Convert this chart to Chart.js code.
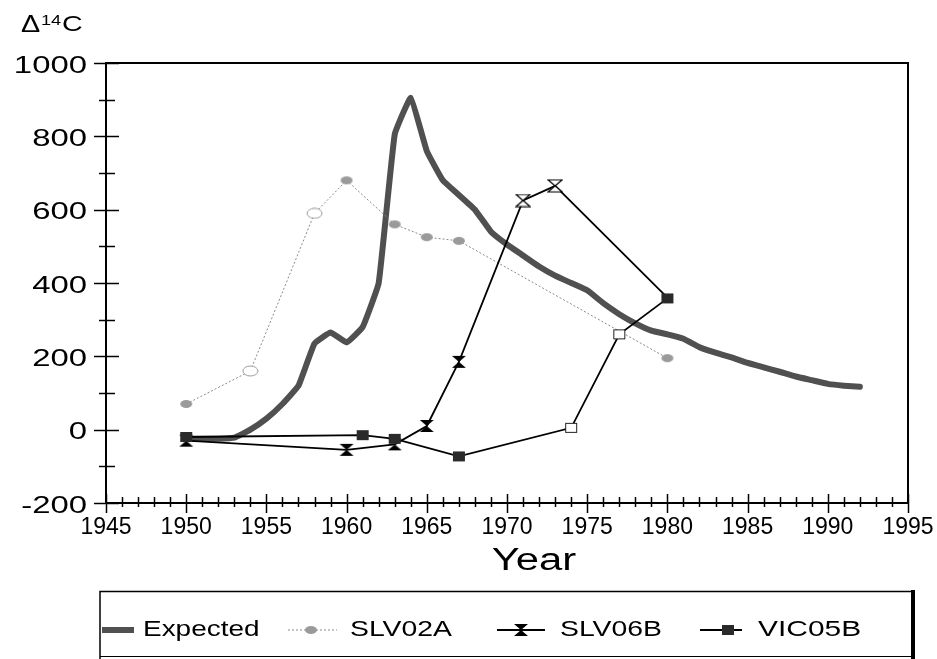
<!DOCTYPE html>
<html>
<head>
<meta charset="utf-8">
<script src="https://cdn.jsdelivr.net/npm/chart.js@4.4.1/dist/chart.umd.min.js"></script>
<style>
  html, body { margin: 0; padding: 0; background: #fff; }
  #wrap { width: 937px; height: 659px; }
</style>
</head>
<body>
<div id="wrap"><canvas id="c14Chart" width="937" height="659"></canvas></div>
<script>
// Data
const expectedYears = [1950, 1951, 1952, 1953, 1954, 1955, 1956, 1957, 1958, 1959, 1960, 1961, 1962, 1963, 1964, 1965, 1966, 1967, 1968, 1969, 1970, 1971, 1972, 1973, 1974, 1975, 1976, 1977, 1978, 1979, 1980, 1981, 1982, 1983, 1984, 1985, 1986, 1987, 1988, 1989, 1990, 1991, 1992];
const expectedValues = [-25, -25, -25, -22, 0, 30, 70, 120, 235, 265, 238, 280, 400, 805, 905, 760, 680, 640, 600, 540, 505, 475, 445, 420, 400, 380, 345, 315, 290, 270, 260, 248, 225, 210, 197, 182, 170, 158, 145, 135, 125, 120, 117];

const slv02aYears = [1950, 1954, 1958, 1960, 1963, 1965, 1967, 1980];
const slv02aValues = [70, 160, 590, 680, 560, 525, 515, 195];

const slv06bYears = [1950, 1960, 1963, 1965, 1967, 1971, 1973, 1980];
const slv06bValues = [-30, -55, -40, 10, 185, 625, 665, 360];

const vic05bYears = [1950, 1961, 1963, 1967, 1974, 1977, 1980];
const vic05bValues = [-20, -15, -25, -73, 5, 260, 358];

const seriesLabels = ["Expected", "SLV02A", "SLV06B", "VIC05B"];
const xTickValues = [1945, 1950, 1955, 1960, 1965, 1970, 1975, 1980, 1985, 1990, 1995];
const yTickValues = [-200, 0, 200, 400, 600, 800, 1000];

// open (unfilled) markers, by year
const slv02aOpen = [1954, 1958];
const slv06bOpen = [1971, 1973];
const vic05bOpen = [1974, 1977];
const slv06bNoMarker = [1980];

const EXPECTED_COLOR = "#505050";
const SLV02A_COLOR = "#8a8a8a";

function toPoints(xs, ys) {
  return xs.map((x, i) => ({ x: x, y: ys[i] }));
}

function makeMarker(kind, open) {
  const c = document.createElement("canvas");
  const ctx = c.getContext("2d");
  if (kind === "circle") {
    c.width = open ? 17 : 14;
    c.height = open ? 12 : 10;
    ctx.beginPath();
    ctx.ellipse(c.width / 2, c.height / 2, c.width / 2 - 1, c.height / 2 - 1, 0, 0, Math.PI * 2);
    if (open) {
      ctx.fillStyle = "#fff";
      ctx.fill();
      ctx.strokeStyle = "#999";
      ctx.lineWidth = 1;
      ctx.stroke();
    } else {
      ctx.fillStyle = "#9a9a9a";
      ctx.fill();
    }
  } else if (kind === "hourglass") {
    c.width = 16;
    c.height = 14;
    ctx.beginPath();
    ctx.moveTo(1, 1);
    ctx.lineTo(15, 1);
    ctx.lineTo(8, 7);
    ctx.lineTo(15, 13);
    ctx.lineTo(1, 13);
    ctx.lineTo(8, 7);
    ctx.closePath();
    if (open) {
      ctx.fillStyle = "#fff";
      ctx.fill();
      ctx.strokeStyle = "#000";
      ctx.lineWidth = 1.2;
      ctx.stroke();
    } else {
      ctx.fillStyle = "#000";
      ctx.fill();
    }
  } else {
    c.width = 14;
    c.height = 12;
    if (open) {
      ctx.fillStyle = "#fff";
      ctx.fillRect(1, 1, 12, 10);
      ctx.strokeStyle = "#222";
      ctx.lineWidth = 1;
      ctx.strokeRect(1.5, 1.5, 11, 9);
    } else {
      ctx.fillStyle = "#2a2a2a";
      ctx.fillRect(1, 1, 12, 10);
    }
  }
  return c;
}

const markers = {
  circle: makeMarker("circle", false),
  circleOpen: makeMarker("circle", true),
  hourglass: makeMarker("hourglass", false),
  hourglassOpen: makeMarker("hourglass", true),
  square: makeMarker("square", false),
  squareOpen: makeMarker("square", true),
};

function drawStretched(ctx, text, x, y, font, sx, align) {
  ctx.save();
  ctx.font = font;
  ctx.textBaseline = "middle";
  ctx.textAlign = "left";
  const w = ctx.measureText(text).width * sx;
  let left = x;
  if (align === "right") left = x - w;
  if (align === "center") left = x - w / 2;
  ctx.translate(left, y);
  ctx.scale(sx, 1);
  ctx.fillStyle = "#000";
  ctx.fillText(text, 0, 0);
  ctx.restore();
}

// axes frame, crossing tick marks, stretched labels and boxed legend
const decorPlugin = {
  id: "decor",
  afterDraw(chart) {
    const ctx = chart.ctx;
    const area = chart.chartArea;
    const xs = chart.scales.x;
    const ys = chart.scales.y;
    ctx.save();
    ctx.strokeStyle = "#000";

    // top and right frame
    ctx.lineWidth = 2;
    ctx.beginPath();
    ctx.moveTo(area.left, area.top);
    ctx.lineTo(area.right, area.top);
    ctx.lineTo(area.right, area.bottom);
    ctx.stroke();

    // x ticks (every year, major every 5)
    ctx.lineWidth = 1.5;
    for (let yr = xs.min; yr <= xs.max; yr++) {
      const px = Math.round(xs.getPixelForValue(yr)) + 0.5;
      const major = yr % 5 === 0;
      ctx.beginPath();
      ctx.moveTo(px, area.bottom - (major ? 9 : 6));
      ctx.lineTo(px, area.bottom + (major ? 10 : 4));
      ctx.stroke();
    }

    // y ticks (every 100, major every 200)
    for (let v = ys.min; v <= ys.max; v += 100) {
      const py = Math.round(ys.getPixelForValue(v)) + 0.5;
      const major = v % 200 === 0;
      ctx.beginPath();
      ctx.moveTo(area.left - (major ? 12 : 7), py);
      ctx.lineTo(area.left + (major ? 13 : 9), py);
      ctx.stroke();
    }

    // y tick labels
    yTickValues.forEach((v) => {
      drawStretched(ctx, String(v), 87, ys.getPixelForValue(v) + 3, "24px 'Liberation Sans', Arial, sans-serif", 1.37, "right");
    });

    // axis titles
    drawStretched(ctx, "Year", 534, 561, "31px 'Liberation Sans', Arial, sans-serif", 1.35, "center");
    drawStretched(ctx, "\u0394", 21, 26, "23px 'Liberation Sans', Arial, sans-serif", 1.25, "left");
    drawStretched(ctx, "14", 41, 21, "14px 'Liberation Sans', Arial, sans-serif", 1.3, "left");
    drawStretched(ctx, "C", 62, 25, "22px 'Liberation Sans', Arial, sans-serif", 1.3, "left");

    // legend box
    ctx.strokeStyle = "#000";
    ctx.lineWidth = 1.5;
    ctx.beginPath();
    ctx.moveTo(100, 659);
    ctx.lineTo(100, 591.5);
    ctx.lineTo(912, 591.5);
    ctx.stroke();
    ctx.lineWidth = 1;
    ctx.beginPath();
    ctx.moveTo(100, 656.5);
    ctx.lineTo(912, 656.5);
    ctx.stroke();
    ctx.lineWidth = 4;
    ctx.beginPath();
    ctx.moveTo(913, 590);
    ctx.lineTo(913, 659);
    ctx.stroke();

    const ly = 630;
    const font = "22px 'Liberation Sans', Arial, sans-serif";
    // Expected
    ctx.strokeStyle = EXPECTED_COLOR;
    ctx.lineWidth = 6;
    ctx.beginPath();
    ctx.moveTo(102, ly);
    ctx.lineTo(134, ly);
    ctx.stroke();
    drawStretched(ctx, seriesLabels[0], 143, ly, font, 1.27, "left");
    // SLV02A
    ctx.strokeStyle = SLV02A_COLOR;
    ctx.lineWidth = 1;
    ctx.setLineDash([2, 2]);
    ctx.beginPath();
    ctx.moveTo(288, ly);
    ctx.lineTo(337, ly);
    ctx.stroke();
    ctx.setLineDash([]);
    ctx.drawImage(markers.circle, 311 - 7, ly - 5);
    drawStretched(ctx, seriesLabels[1], 350, ly, font, 1.29, "left");
    // SLV06B
    ctx.strokeStyle = "#000";
    ctx.lineWidth = 2;
    ctx.beginPath();
    ctx.moveTo(497, ly);
    ctx.lineTo(545, ly);
    ctx.stroke();
    ctx.drawImage(markers.hourglass, 521 - 8, ly - 7);
    drawStretched(ctx, seriesLabels[2], 560, ly, font, 1.29, "left");
    // VIC05B
    ctx.beginPath();
    ctx.moveTo(700, ly);
    ctx.lineTo(742, ly);
    ctx.stroke();
    ctx.drawImage(markers.square, 728 - 7, ly - 6);
    drawStretched(ctx, seriesLabels[3], 758, ly, font, 1.36, "left");

    ctx.restore();
  },
};

const ctx = document.getElementById("c14Chart").getContext("2d");
new Chart(ctx, {
  type: "line",
  data: {
    datasets: [
      {
        label: seriesLabels[0],
        data: toPoints(expectedYears, expectedValues),
        borderColor: EXPECTED_COLOR,
        borderWidth: 6,
        borderJoinStyle: "round",
        borderCapStyle: "round",
        pointRadius: 0,
        tension: 0.1,
        order: 10,
      },
      {
        label: seriesLabels[1],
        data: toPoints(slv02aYears, slv02aValues),
        borderColor: SLV02A_COLOR,
        borderWidth: 1,
        borderDash: [2, 2],
        pointStyle: slv02aYears.map((y) => (slv02aOpen.includes(y) ? markers.circleOpen : markers.circle)),
        pointRadius: 6,
        order: 3,
      },
      {
        label: seriesLabels[2],
        data: toPoints(slv06bYears, slv06bValues),
        borderColor: "#000",
        borderWidth: 1.8,
        pointStyle: slv06bYears.map((y) => (slv06bOpen.includes(y) ? markers.hourglassOpen : markers.hourglass)),
        pointRadius: slv06bYears.map((y) => (slv06bNoMarker.includes(y) ? 0 : 6)),
        order: 2,
      },
      {
        label: seriesLabels[3],
        data: toPoints(vic05bYears, vic05bValues),
        borderColor: "#000",
        borderWidth: 1.8,
        pointStyle: vic05bYears.map((y) => (vic05bOpen.includes(y) ? markers.squareOpen : markers.square)),
        pointRadius: 6,
        order: 1,
      },
    ],
  },
  options: {
    responsive: false,
    animation: false,
    events: [],
    layout: {
      padding: { top: 63, right: 29, left: 0, bottom: 0 },
    },
    plugins: {
      legend: { display: false },
      tooltip: { enabled: false },
    },
    scales: {
      x: {
        type: "linear",
        min: 1945,
        max: 1995,
        afterBuildTicks: (scale) => {
          scale.ticks = xTickValues.map((v) => ({ value: v }));
        },
        afterFit: (scale) => {
          scale.height = 156;
          scale.paddingLeft = 0;
          scale.paddingRight = 0;
        },
        ticks: {
          color: "#000",
          font: { family: "'Liberation Sans', Arial, sans-serif", size: 23 },
          padding: 11,
          maxRotation: 0,
          autoSkip: false,
          callback: (v) => String(v),
        },
        grid: { display: false, drawTicks: false },
        border: { display: true, color: "#000", width: 2 },
      },
      y: {
        type: "linear",
        min: -200,
        max: 1000,
        afterFit: (scale) => {
          scale.width = 106;
        },
        ticks: { display: false, stepSize: 200 },
        grid: { display: false, drawTicks: false },
        border: { display: true, color: "#000", width: 2 },
      },
    },
  },
  plugins: [decorPlugin],
});
</script>
</body>
</html>
